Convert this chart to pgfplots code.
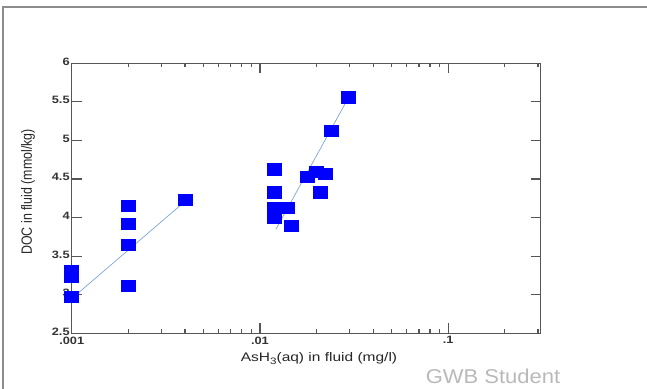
\documentclass[border=0pt]{standalone}
\usepackage{pgfplots}
\pgfplotsset{compat=1.18}
\usepackage{fontspec}
\setmainfont{Liberation Sans}
\definecolor{markblue}{RGB}{0,0,255}
\definecolor{fitblue}{RGB}{120,162,218}
\definecolor{axgray}{RGB}{85,85,85}
\definecolor{framegray}{RGB}{140,140,140}
\definecolor{wmgray}{RGB}{185,185,185}
\begin{document}
\begin{tikzpicture}
\draw[framegray, line width=1pt] (2.25pt,0) -- (2.25pt,286.5pt) -- (485.25pt,286.5pt);
\begin{axis}[
  set layers,
  at={(53.78pt,41.78pt)}, anchor=south west,
  scale only axis, width=351.75pt, height=202.5pt,
  xmode=log, xmin=0.001, xmax=0.31, ymin=2.5, ymax=6,
  xtick={0.001,0.01,0.1}, xticklabels={.001,.01,.1},
  minor xtick={0.002,0.003,0.004,0.005,0.006,0.007,0.008,0.009,0.02,0.03,0.04,0.05,0.06,0.07,0.08,0.09,0.2,0.3},
  ytick={2.5,3,3.5,4,4.5,5,5.5,6}, yticklabels={2.5,3,3.5,4,4.5,5,5.5,6},
  tick align=inside,
  major tick length=7.5pt, minor tick length=3pt,
  axis line style={axgray, line width=1.1pt},
  tick style={axgray, line width=0.9pt},
  tick label style={font=\fontsize{8}{9}\selectfont\bfseries, text=black!80, xscale=1.2, inner sep=0.5pt},
  yticklabel style={xshift=-0.6pt, yshift=1.3pt},
  xticklabel style={yshift=-1.8pt},
  clip=false,
]
\addplot[only marks, mark=square*, mark size=4.2pt, mark options={xscale=1.25, draw=markblue, fill=markblue}, markblue] coordinates {
(0.001,3.31) (0.001,3.24) (0.001,2.975)
(0.002,4.15) (0.002,3.92) (0.002,3.645) (0.002,3.12)
(0.004,4.23)
(0.0119,4.626) (0.0119,4.328) (0.0119,4.124) (0.0140,4.124) (0.0119,4.004)
(0.0147,3.891) (0.0178,4.53) (0.0198,4.595) (0.0221,4.565) (0.0208,4.328)
(0.0238,5.127) (0.0296,5.56)
};
\addplot[fitblue, line width=0.5pt] coordinates {(0.001,2.95) (0.004,4.21)};
\addplot[fitblue, line width=0.5pt] coordinates {(0.01216,3.848) (0.0304,5.611)};
\end{axis}
\node[anchor=base, xscale=1.25, font=\fontsize{9.3}{11}\selectfont, text=black!85] at (239.25pt,20.25pt) {AsH\raisebox{-0.45ex}{\fontsize{7}{8}\selectfont 3}(aq) in fluid (mg/l)};
\node[rotate=90, yscale=1.2, font=\fontsize{9.3}{11}\selectfont, text=black!85] at (21pt,147.75pt) {DOC in fluid (mmol/kg)};
\node[anchor=base, xscale=1.1, font=\fontsize{15}{17}\selectfont, text=wmgray] at (369.75pt,3.75pt) {GWB Student};
\pgfresetboundingbox
\path[use as bounding box] (0,0) rectangle (485.25pt,291.75pt);
\end{tikzpicture}
\end{document}
